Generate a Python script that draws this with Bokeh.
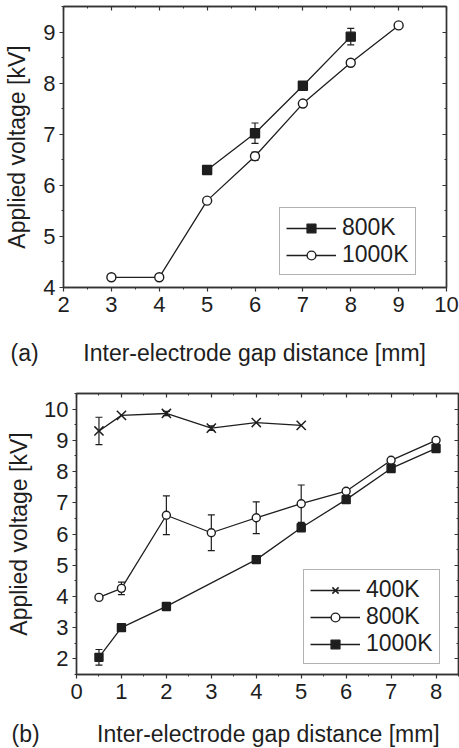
from bokeh.plotting import figure
from bokeh.models import (Range1d, LinearAxis, FixedTicker, Whisker, ColumnDataSource,
                          Legend, LegendItem, Label, TeeHead)
from bokeh.embed import file_html
from bokeh.resources import INLINE

FONT = "Liberation Sans"
INK = "#1e1e1e"
NB = "\u00a0"

# ---------------- panel (a) data ----------------
a_xticks = [2, 3, 4, 5, 6, 7, 8, 9, 10]
a_yticks = [4, 5, 6, 7, 8, 9]
a_x_800 = [5, 6, 7, 8]
a_y_800 = [6.3, 7.02, 7.95, 8.91]
a_e_800 = [0.0, 0.2, 0.0, 0.16]
a_x_1000 = [3, 4, 5, 6, 7, 8, 9]
a_y_1000 = [4.2, 4.2, 5.7, 6.57, 7.6, 8.4, 9.13]
a_e_1000 = [0.0, 0.0, 0.0, 0.08, 0.0, 0.0, 0.0]

# ---------------- panel (b) data ----------------
b_xticks = [0, 1, 2, 3, 4, 5, 6, 7, 8]
b_yticks = [2, 3, 4, 5, 6, 7, 8, 9, 10]
b_x_400 = [0.5, 1, 2, 3, 4, 5]
b_y_400 = [9.3, 9.8, 9.86, 9.39, 9.57, 9.48]
b_e_400 = [0.44, 0.0, 0.07, 0.07, 0.0, 0.0]
b_x_800 = [0.5, 1, 2, 3, 4, 5, 6, 7, 8]
b_y_800 = [3.97, 4.26, 6.6, 6.04, 6.52, 6.97, 7.37, 8.36, 9.0]
b_e_800 = [0.0, 0.2, 0.62, 0.57, 0.51, 0.6, 0.0, 0.05, 0.0]
b_x_1000 = [0.5, 1, 2, 4, 5, 6, 7, 8]
b_y_1000 = [2.05, 3.0, 3.68, 5.18, 6.2, 7.1, 8.1, 8.74]
b_e_1000 = [0.25, 0.0, 0.0, 0.0, 0.0, 0.0, 0.0, 0.0]

x_title = "Inter-electrode gap distance [mm]"
y_title = "Applied voltage [kV]"


def err_source(xs, ys, es):
    keep = [i for i, e in enumerate(es) if e > 0]
    return ColumnDataSource(dict(
        x=[xs[i] for i in keep],
        lo=[ys[i] - es[i] for i in keep],
        hi=[ys[i] + es[i] for i in keep]))


def style_axis(ax, ticks, show_labels, inward):
    ax.ticker = FixedTicker(ticks=ticks, minor_ticks=[t + 0.5 for t in [ticks[0] - 1] + ticks])
    ax.axis_line_color = "#333333"
    ax.axis_line_width = 1.4
    ax.major_tick_line_color = "#333333"
    ax.minor_tick_line_color = "#333333"
    ax.major_tick_line_width = 1.2
    ax.minor_tick_line_width = 1.0
    if inward:
        ax.major_tick_in, ax.major_tick_out = 4, 0
        ax.minor_tick_in, ax.minor_tick_out = 2, 0
    else:
        ax.major_tick_in, ax.major_tick_out = 0, 4
        ax.minor_tick_in, ax.minor_tick_out = 0, 2
    if show_labels:
        ax.major_label_text_font = FONT
        ax.major_label_text_font_size = "22px"
        ax.major_label_text_color = INK
        ax.axis_label_text_font = FONT
        ax.axis_label_text_font_size = "23px"
        ax.axis_label_text_font_style = "normal"
        ax.axis_label_text_color = INK
    else:
        ax.axis_label = None
        ax.axis_label_standoff = 0
        ax.major_label_standoff = 0
        ax.major_label_text_font_size = "0px"
        ax.major_label_text_color = None


def make_panel(xr, yr, xticks, yticks, borders, y_lab_std, tag, nsp, tx, ty):
    p = figure(width=459, height=374, output_backend="svg", toolbar_location=None,
               x_range=Range1d(*xr), y_range=Range1d(*yr),
               min_border_left=borders[0], min_border_right=borders[1],
               min_border_top=borders[2], min_border_bottom=borders[3],
               y_axis_label=y_title)
    p.grid.visible = False
    p.outline_line_color = "#333333"
    p.outline_line_width = 1.4
    p.background_fill_color = "white"
    p.border_fill_color = "white"
    style_axis(p.xaxis[0], xticks, True, False)
    style_axis(p.yaxis[0], yticks, True, False)
    p.xaxis[0].major_label_standoff = 5
    p.yaxis[0].major_label_standoff = 4
    p.yaxis[0].axis_label_standoff = y_lab_std
    top = LinearAxis()
    right = LinearAxis()
    style_axis(top, xticks, False, True)
    style_axis(right, yticks, False, True)
    p.add_layout(top, "above")
    p.add_layout(right, "right")
    # panel tag and x-axis title, on one line under the tick labels
    p.add_layout(Label(x=tx, y=ty, x_units="canvas", y_units="canvas",
                       text=tag + NB * nsp + x_title,
                       text_font=FONT, text_font_size="23px", text_color=INK,
                       text_baseline="alphabetic"), "below")
    return p


def series(p, xs, ys, es, marker, size, fill, lw=1.4):
    ln = p.line(xs, ys, line_color=INK, line_width=1.3)
    src = err_source(xs, ys, es)
    if len(src.data["x"]):
        w = Whisker(source=src, base="x", lower="lo", upper="hi", line_color=INK, line_width=1.2,
                    upper_head=TeeHead(size=7, line_color=INK, line_width=1.2),
                    lower_head=TeeHead(size=7, line_color=INK, line_width=1.2))
        p.add_layout(w)
    sc = p.scatter(xs, ys, marker=marker, size=size, line_color=INK, line_width=lw,
                   fill_color=fill)
    return [ln, sc]


def add_legend(p, items, loc):
    leg = Legend(items=items, location=loc, glyph_width=50, glyph_height=22,
                 label_text_font=FONT, label_text_font_size="23px", label_text_color=INK,
                 label_standoff=6, spacing=0, padding=6, margin=0,
                 border_line_color="#666666", border_line_width=1.2,
                 background_fill_color="white", background_fill_alpha=1.0)
    p.add_layout(leg, "center")


# ---------------- panel (a) ----------------
pa = make_panel((2, 10), (4, 9.5), a_xticks, a_yticks, (63, 13, 6, 87), 10,
                "(a)", 7, 10, 352)
r800 = series(pa, a_x_800, a_y_800, a_e_800, "square", 9, INK)
r1000 = series(pa, a_x_1000, a_y_1000, a_e_1000, "circle", 9, "white")
add_legend(pa, [LegendItem(label="800K", renderers=r800),
                LegendItem(label="1000K", renderers=r1000)], (216, 12))

# ---------------- panel (b) ----------------
pb = make_panel((0, 8.5), (1.5, 10.5), b_xticks, b_yticks, (76, 1, 19, 74), 9,
                "(b)", 9, 11, 359)
q400 = series(pb, b_x_400, b_y_400, b_e_400, "x", 13, INK, 1.5)
q800 = series(pb, b_x_800, b_y_800, b_e_800, "circle", 8, "white")
q1000 = series(pb, b_x_1000, b_y_1000, b_e_1000, "square", 8, INK)
add_legend(pb, [LegendItem(label="400K", renderers=q400),
                LegendItem(label="800K", renderers=q800),
                LegendItem(label="1000K", renderers=q1000)], (227, 10))

# two independent roots, stacked, so each keeps its own frame position
open("out.html", "w").write(file_html([pa, pb], INLINE))
